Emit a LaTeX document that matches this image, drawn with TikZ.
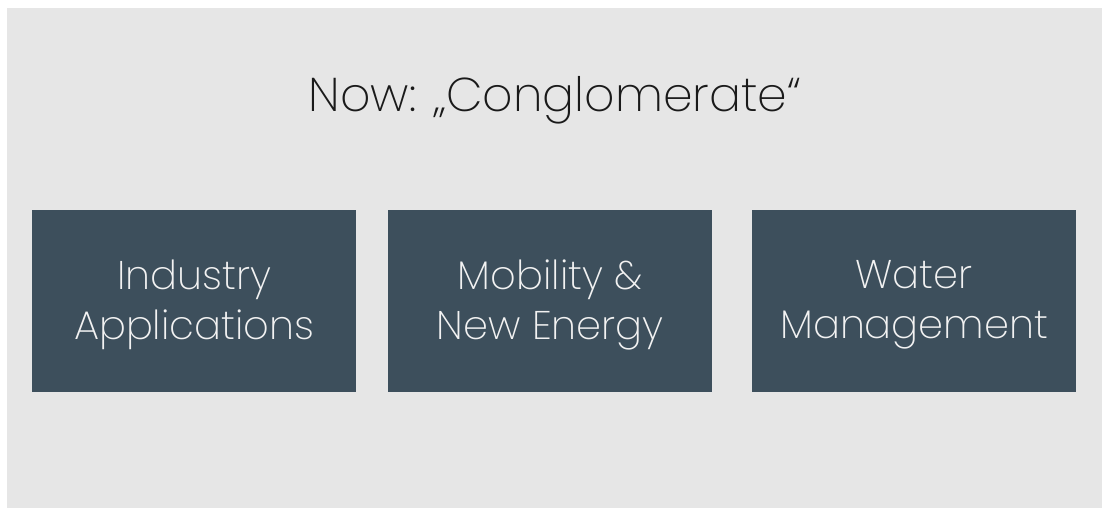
\documentclass[tikz,border=0pt]{standalone}
\usepackage{fontspec}
\setmainfont{Poppins}[UprightFont=* ExtraLight]
\definecolor{bggray}{HTML}{E6E6E6}
\definecolor{boxblue}{HTML}{3D4F5C}
\definecolor{boxtext}{HTML}{F2F2F2}
\definecolor{titletext}{HTML}{1A1A1A}
\begin{document}
\begin{tikzpicture}[x=1pt,y=-1pt,
  panel/.style={fill=boxblue,draw=none,minimum width=324pt,minimum height=182pt,anchor=north west,inner sep=0pt},
  paneltext/.style={text=boxtext,align=center,inner sep=0pt,font=\fontsize{40}{50}\selectfont},
  titlestyle/.style={text=titletext,font=\fontsize{47.4}{52}\selectfont,inner sep=0pt}]
\useasboundingbox (0,0) rectangle (1109,508);
\fill[bggray] (7,8) rectangle (1102,508);
\node[titlestyle] (title) at (555,100) {Now: „Conglomerate“};
\node[panel] (ind) at (32,210) {};
\node[panel] (mob) at (388,210) {};
\node[panel] (wat) at (752,210) {};
\node[paneltext] (indtext) at ([yshift=-4pt]ind.center) {Industry\\Applications};
\node[paneltext] (mobtext) at ([yshift=-4pt]mob.center) {Mobility \&\\New Energy};
\node[paneltext] (wattext) at ([yshift=-4pt]wat.center) {Water\\Management};
\end{tikzpicture}
\end{document}
